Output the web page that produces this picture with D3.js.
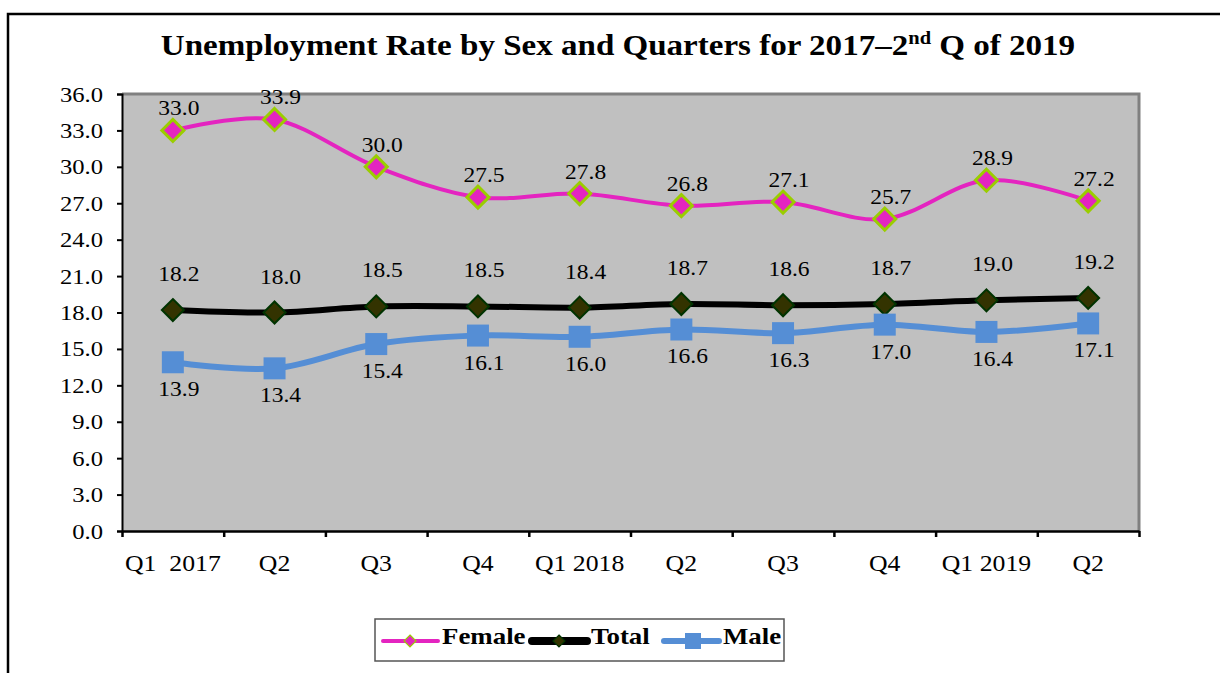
<!DOCTYPE html>
<html>
<head>
<meta charset="utf-8">
<script src="https://cdn.jsdelivr.net/npm/d3@7"></script>
<style>
  html, body { margin: 0; padding: 0; background: #fff; }
  svg { display: block; }
  text { font-family: "Liberation Serif", "Times New Roman", serif; fill: #000; }
</style>
</head>
<body>
<svg id="chart" width="1220" height="673"></svg>
<script>
// ---- data ----
const categories = ["Q1  2017", "Q2", "Q3", "Q4", "Q1 2018", "Q2", "Q3", "Q4", "Q1 2019", "Q2"];
const female = [33.0, 33.9, 30.0, 27.5, 27.8, 26.8, 27.1, 25.7, 28.9, 27.2];
const total  = [18.2, 18.0, 18.5, 18.5, 18.4, 18.7, 18.6, 18.7, 19.0, 19.2];
const male   = [13.9, 13.4, 15.4, 16.1, 16.0, 16.6, 16.3, 17.0, 16.4, 17.1];
const yTicks = [0, 3, 6, 9, 12, 15, 18, 21, 24, 27, 30, 33, 36];
const seriesNames = ["Female", "Total", "Male"];

// ---- layout / style ----
const W = 1220, H = 673;
const plot = { left: 122, right: 1139, top: 94, bottom: 531 };
const svg = d3.select("#chart");
const SX = 1.12; // horizontal stretch of text in reference

const series = [
  { name: "Female", values: female, color: "#e424c0", width: 4, marker: "diamond",
    fill: "#e424c0", stroke: "#9acd00", sw: 3, size: 22, labelDy: -15, legW: 4, legSize: 12 },
  { name: "Total", values: total, color: "#000000", width: 6, marker: "diamond",
    fill: "#333300", stroke: "#003300", sw: 2, size: 22, labelDy: -29, legW: 8, legSize: 12 },
  { name: "Male", values: male, color: "#558ed5", width: 6, marker: "square",
    fill: "#558ed5", stroke: "#558ed5", sw: 0, size: 22, labelDy: 34, legW: 6, legSize: 16 }
];

// outer frame
svg.append("path")
  .attr("d", `M8,${H + 5} L8,14 L${W + 5},14`)
  .attr("fill", "none").attr("stroke", "#000").attr("stroke-width", 2.5);

// title
const title = svg.append("text")
  .attr("text-anchor", "middle")
  .attr("font-weight", "bold")
  .attr("font-size", 29)
  .attr("transform", `translate(618,55) scale(1.14,1)`);
title.append("tspan").text("Unemployment Rate by Sex and Quarters for 2017\u20132");
title.append("tspan").attr("font-size", 18).attr("dy", -11).text("nd");
title.append("tspan").attr("dy", 11).text(" Q of 2019");

// scales
const x = d3.scaleBand().domain(d3.range(categories.length)).range([plot.left, plot.right]);
const xEdge = d3.scaleLinear().domain([0, categories.length]).range([plot.left, plot.right]);
const y = d3.scaleLinear().domain([0, 36]).range([plot.bottom, plot.top]);
const cx = i => x(i) + x.bandwidth() / 2;

// plot area
svg.append("rect")
  .attr("x", plot.left).attr("y", plot.top)
  .attr("width", plot.right - plot.left).attr("height", plot.bottom - plot.top)
  .attr("fill", "#c0c0c0");
svg.append("path")
  .attr("d", `M${plot.left},${plot.top} L${plot.right},${plot.top} L${plot.right},${plot.bottom}`)
  .attr("fill", "none").attr("stroke", "#808080").attr("stroke-width", 3);

// y axis
const yAxis = svg.append("g")
  .attr("transform", `translate(${plot.left},0)`)
  .call(d3.axisLeft(y).tickValues(yTicks).tickFormat(d3.format(".1f")).tickSize(5).tickPadding(14));
yAxis.select(".domain").attr("stroke", "#000").attr("stroke-width", 2);
yAxis.selectAll(".tick line").attr("stroke", "#000").attr("stroke-width", 2);
yAxis.selectAll(".tick text")
  .attr("font-size", 22).attr("font-family", "Liberation Serif").attr("fill", "#000")
  .each(function () {
    const t = d3.select(this);
    const xx = +t.attr("x");
    t.attr("x", null).attr("transform", `translate(${xx},0) scale(${SX},1)`);
  });

// x axis edges (tick marks between categories)
const xTickAxis = svg.append("g")
  .attr("transform", `translate(0,${plot.bottom})`)
  .call(d3.axisBottom(xEdge).tickValues(d3.range(categories.length + 1)).tickFormat("").tickSize(6).tickSizeOuter(0));
xTickAxis.select(".domain").attr("stroke", "#000").attr("stroke-width", 2.5);
xTickAxis.selectAll(".tick line").attr("stroke", "#000").attr("stroke-width", 2.5);

// x labels
const xAxis = svg.append("g")
  .attr("transform", `translate(0,${plot.bottom})`)
  .call(d3.axisBottom(x).tickFormat(i => categories[i]).tickSize(0).tickPadding(24));
xAxis.select(".domain").remove();
xAxis.selectAll(".tick text")
  .attr("font-size", 23).attr("font-family", "Liberation Serif").attr("fill", "#000")
  .style("white-space", "pre")
  .each(function () {
    const t = d3.select(this);
    const yy = +t.attr("y");
    t.attr("y", null).attr("transform", `translate(0,${yy}) scale(${SX},1)`);
  });

// lines
const line = d3.line().curve(d3.curveCardinal.tension(0)).x((d, i) => cx(i)).y(d => y(d));

function markerPath(type, s) {
  const h = s / 2;
  if (type === "diamond") return `M0,${-h} L${h},0 L0,${h} L${-h},0 Z`;
  return `M${-h},${-h} L${h},${-h} L${h},${h} L${-h},${h} Z`;
}

series.forEach(s => {
  const g = svg.append("g").attr("class", "series-" + s.name);
  g.append("path")
    .datum(s.values)
    .attr("d", line)
    .attr("fill", "none").attr("stroke", s.color).attr("stroke-width", s.width)
    .attr("stroke-linejoin", "round");
  g.selectAll(".marker").data(s.values).join("path")
    .attr("class", "marker")
    .attr("d", markerPath(s.marker, s.size))
    .attr("transform", (d, i) => `translate(${cx(i)},${y(d)})`)
    .attr("fill", s.fill).attr("stroke", s.stroke).attr("stroke-width", s.sw);
});

// data labels
series.forEach(s => {
  svg.append("g").selectAll("text").data(s.values).join("text")
    .attr("text-anchor", "middle")
    .attr("font-size", 21)
    .attr("transform", (d, i) => `translate(${cx(i) + 6},${y(d) + s.labelDy}) scale(${SX},1)`)
    .text(d => d3.format(".1f")(d));
});

// legend
const leg = svg.append("g");
leg.append("rect").attr("x", 375).attr("y", 619).attr("width", 409).attr("height", 42)
  .attr("fill", "#fff").attr("stroke", "#555").attr("stroke-width", 1.5);
const legX = [383, 532, 664];
const legItems = leg.selectAll(".item").data(series).join("g")
  .attr("class", "item")
  .attr("transform", (d, i) => `translate(${legX[i]},641)`);
legItems.append("line")
  .attr("x1", 0).attr("x2", 55).attr("y1", 0).attr("y2", 0)
  .attr("stroke", d => d.color).attr("stroke-width", d => d.legW).attr("stroke-linecap", "round");
legItems.append("path")
  .attr("d", d => markerPath(d.marker, d.legSize))
  .attr("transform", d => `translate(${d.marker === "square" ? 29 : 27},0)`)
  .attr("fill", d => d.fill).attr("stroke", d => d.stroke).attr("stroke-width", d => d.marker === "square" ? 0 : 1.2);
legItems.append("text")
  .attr("font-weight", "bold").attr("font-size", 24)
  .attr("transform", `translate(59,3) scale(${SX},1)`)
  .text(d => d.name);
</script>
</body>
</html>
